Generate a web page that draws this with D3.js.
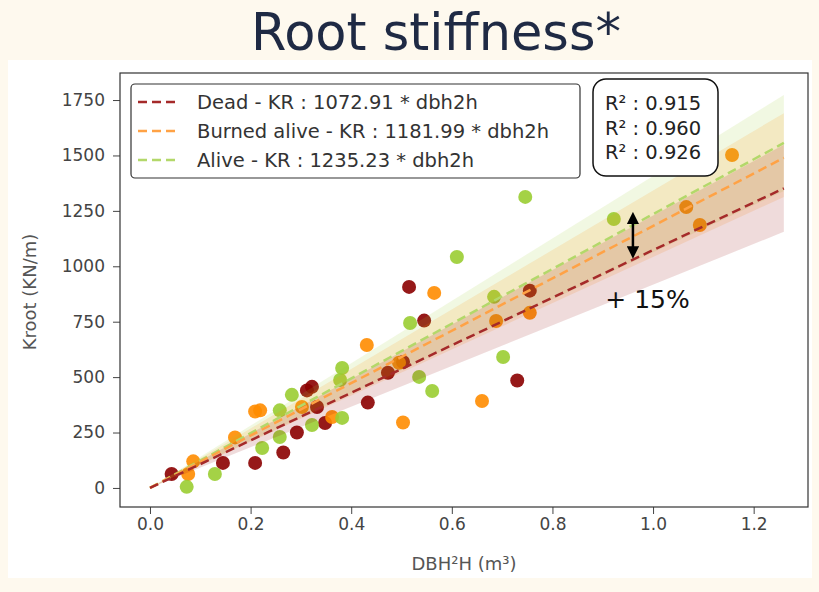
<!DOCTYPE html>
<html>
<head>
<meta charset="utf-8">
<script src="https://cdn.jsdelivr.net/npm/d3@7"></script>
<style>
  body { margin: 0; background: #fef9ee; }
  text { font-family: "DejaVu Sans", sans-serif; }
</style>
</head>
<body>
<div id="chart"></div>
<script>
// series
const seriesNames = ["Dead", "Burned alive", "Alive"]
const slopes = [1072.91, 1181.99, 1235.23]
const r2 = [0.915, 0.960, 0.926]
const bandLow = [917, 1042, 1063]
const bandHigh = [1229, 1342, 1407]

// points [DBH²H, Kroot]
const deadPts = [[0.043, 63], [0.145, 113], [0.209, 113], [0.265, 160], [0.292, 250], [0.312, 440],
  [0.322, 456], [0.332, 365], [0.348, 293], [0.433, 385], [0.473, 520], [0.503, 568],
  [0.515, 907], [0.545, 755], [0.730, 485], [0.755, 890]]
const burnedPts = [[0.076, 63], [0.086, 120], [0.169, 228], [0.209, 345], [0.219, 350], [0.302, 365],
  [0.362, 320], [0.431, 645], [0.495, 565], [0.503, 295], [0.565, 880], [0.660, 392],
  [0.688, 753], [0.755, 790], [1.066, 1267], [1.093, 1186], [1.157, 1502]]
const alivePts = [[0.073, 5], [0.129, 63], [0.223, 180], [0.258, 230], [0.258, 350], [0.282, 420],
  [0.322, 284], [0.382, 316], [0.378, 487], [0.382, 541], [0.517, 744], [0.535, 501],
  [0.561, 437], [0.610, 1042], [0.684, 862], [0.702, 591], [0.746, 1313], [0.922, 1213]]

const xTicks = [0, 0.2, 0.4, 0.6, 0.8, 1.0, 1.2]
const yTicks = [0, 250, 500, 750, 1000, 1250, 1500, 1750]
const lineEnd = 1.26

// annotation
const arrowX = 0.96
const arrowY = [1040, 1240]
const noteText = "+ 15%"
const notePos = [0.905, 812]

const pointColors = ["#8b0000", "#ff8c00", "#9acd32"]
const lineColors = ["#a52a2a", "#ffa245", "#b3d86a"]

const W = 819, H = 592
const mLeft = 120, mRight = 808, mTop = 73, mBottom = 507

const svg = d3.select("#chart").append("svg")
  .attr("width", W).attr("height", H)

svg.append("rect").attr("width", W).attr("height", H).attr("fill", "#fef9ee")
svg.append("rect").attr("x", 8).attr("y", 60).attr("width", 804).attr("height", 518).attr("fill", "#fff")

svg.append("text")
  .attr("x", 436).attr("y", 50)
  .attr("text-anchor", "middle")
  .attr("font-size", 51)
  .attr("fill", "#1f2a44")
  .text("Root stiffness*")

const x = d3.scaleLinear().domain([-0.0596, 1.308]).range([mLeft, mRight])
const y = d3.scaleLinear().domain([-86, 1872]).range([mBottom, mTop])

svg.append("clipPath").attr("id", "clip")
  .append("rect").attr("x", mLeft).attr("y", mTop).attr("width", mRight - mLeft).attr("height", mBottom - mTop)

const plot = svg.append("g").attr("clip-path", "url(#clip)")

// scatter
const allPts = [deadPts, burnedPts, alivePts]
allPts.forEach((pts, i) => {
  plot.selectAll(".p" + i).data(pts).enter().append("circle")
    .attr("cx", d => x(d[0])).attr("cy", d => y(d[1]))
    .attr("r", 7)
    .attr("fill", pointColors[i])
    .attr("opacity", 0.9)
})

// confidence bands
const area = d3.area()
  .x(d => x(d.x)).y0(d => y(d.lo)).y1(d => y(d.hi))
;[2, 1, 0].forEach(i => {
  const pts = [0, lineEnd].map(v => ({x: v, lo: v * bandLow[i], hi: v * bandHigh[i]}))
  plot.append("path").datum(pts)
    .attr("d", area)
    .attr("fill", pointColors[i])
    .attr("fill-opacity", 0.14)
})

// fit lines
const line = d3.line().x(d => x(d[0])).y(d => y(d[1]))
;[2, 1, 0].forEach(i => {
  plot.append("path").datum([[0, 0], [lineEnd, lineEnd * slopes[i]]])
    .attr("d", line)
    .attr("fill", "none")
    .attr("stroke", lineColors[i])
    .attr("stroke-width", 2.5)
    .attr("stroke-dasharray", "9,5")
})

// axes
const xAxis = d3.axisBottom(x).tickValues(xTicks).tickFormat(d3.format(".1f")).tickSize(7).tickSizeOuter(0).tickPadding(4)
const yAxis = d3.axisLeft(y).tickValues(yTicks).tickFormat(d3.format("d")).tickSize(7).tickSizeOuter(0).tickPadding(8)

const gx = svg.append("g").attr("transform", `translate(0,${mBottom})`).call(xAxis)
const gy = svg.append("g").attr("transform", `translate(${mLeft},0)`).call(yAxis)
;[gx, gy].forEach(g => {
  g.select(".domain").remove()
  g.selectAll("line").attr("stroke", "#444")
  g.selectAll("text").attr("font-size", 17).attr("fill", "#444").attr("font-family", "DejaVu Sans")
})

svg.append("rect")
  .attr("x", mLeft).attr("y", mTop).attr("width", mRight - mLeft).attr("height", mBottom - mTop)
  .attr("fill", "none").attr("stroke", "#333").attr("stroke-width", 1.2)

svg.append("text")
  .attr("x", 464).attr("y", 570)
  .attr("text-anchor", "middle").attr("font-size", 18).attr("fill", "#555")
  .text("DBH²H (m³)")

svg.append("text")
  .attr("transform", "translate(36,292) rotate(-90)")
  .attr("text-anchor", "middle").attr("font-size", 18).attr("fill", "#555")
  .text("Kroot (KN/m)")

// legend
const lg = svg.append("g")
lg.append("rect").attr("x", 131).attr("y", 84).attr("width", 449).attr("height", 94)
  .attr("rx", 4).attr("fill", "#fff").attr("stroke", "#333").attr("stroke-width", 1.2)
seriesNames.forEach((name, i) => {
  const yy = 102 + i * 29
  lg.append("line").attr("x1", 138).attr("x2", 178).attr("y1", yy).attr("y2", yy)
    .attr("stroke", lineColors[i]).attr("stroke-width", 2.5).attr("stroke-dasharray", "9,5")
  lg.append("text").attr("x", 197).attr("y", yy).attr("dy", "0.36em")
    .attr("font-size", 19.5).attr("fill", "#333")
    .text(`${name} - KR : ${slopes[i].toFixed(2)} * dbh2h`)
})

// R² box
const rb = svg.append("g")
rb.append("rect").attr("x", 593).attr("y", 79).attr("width", 125).attr("height", 97)
  .attr("rx", 13).attr("fill", "#fff").attr("stroke", "#111").attr("stroke-width", 1.5)
r2.forEach((v, i) => {
  rb.append("text").attr("x", 605).attr("y", 103 + i * 24.5).attr("dy", "0.36em")
    .attr("font-size", 19.5).attr("fill", "#222")
    .text(`R² : ${v.toFixed(3)}`)
})

// annotation arrow
const defs = svg.append("defs")
defs.append("marker").attr("id", "head").attr("viewBox", "0 0 10 10")
  .attr("refX", 5).attr("refY", 5).attr("markerWidth", 5).attr("markerHeight", 5)
  .attr("orient", "auto-start-reverse")
  .append("path").attr("d", "M0,0 L10,5 L0,10 z").attr("fill", "#000")

svg.append("line")
  .attr("x1", x(arrowX)).attr("x2", x(arrowX))
  .attr("y1", y(arrowY[0]) - 5).attr("y2", y(arrowY[1]) + 5)
  .attr("stroke", "#000").attr("stroke-width", 2.5)
  .attr("marker-start", "url(#head)").attr("marker-end", "url(#head)")

svg.append("text")
  .attr("x", x(notePos[0])).attr("y", y(notePos[1]))
  .attr("font-size", 25).attr("fill", "#111")
  .text(noteText)
</script>
</body>
</html>
